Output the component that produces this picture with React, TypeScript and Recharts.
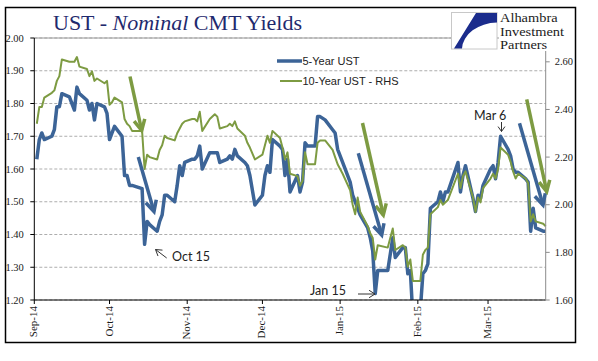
import { LineChart, Line, XAxis, YAxis, CartesianGrid, ReferenceLine } from "recharts";

// trading days, Sep-14 .. Mar-15
const dates = [
  // Sep 2014
  "2014-09-02", "2014-09-03", "2014-09-04", "2014-09-05", "2014-09-08", "2014-09-09", "2014-09-10",
  "2014-09-11", "2014-09-12", "2014-09-15", "2014-09-16", "2014-09-17", "2014-09-18", "2014-09-19",
  "2014-09-22", "2014-09-23", "2014-09-24", "2014-09-25", "2014-09-26", "2014-09-29", "2014-09-30",
  // Oct 2014
  "2014-10-01", "2014-10-02", "2014-10-03", "2014-10-06", "2014-10-07", "2014-10-08", "2014-10-09",
  "2014-10-10", "2014-10-14", "2014-10-15", "2014-10-16", "2014-10-17", "2014-10-20", "2014-10-21",
  "2014-10-22", "2014-10-23", "2014-10-24", "2014-10-27", "2014-10-28", "2014-10-29", "2014-10-30",
  "2014-10-31",
  // Nov 2014
  "2014-11-03", "2014-11-04", "2014-11-05", "2014-11-06", "2014-11-07", "2014-11-10", "2014-11-12",
  "2014-11-13", "2014-11-14", "2014-11-17", "2014-11-18", "2014-11-19", "2014-11-20", "2014-11-21",
  "2014-11-24", "2014-11-25", "2014-11-26", "2014-11-28",
  // Dec 2014
  "2014-12-01", "2014-12-02", "2014-12-03", "2014-12-04", "2014-12-05", "2014-12-08", "2014-12-09",
  "2014-12-10", "2014-12-11", "2014-12-12", "2014-12-15", "2014-12-16", "2014-12-17", "2014-12-18",
  "2014-12-19", "2014-12-22", "2014-12-23", "2014-12-24", "2014-12-26", "2014-12-29", "2014-12-30",
  "2014-12-31",
  // Jan 2015
  "2015-01-02", "2015-01-05", "2015-01-06", "2015-01-07", "2015-01-08", "2015-01-09", "2015-01-12",
  "2015-01-13", "2015-01-14", "2015-01-15", "2015-01-16", "2015-01-20", "2015-01-21", "2015-01-22",
  "2015-01-23", "2015-01-26", "2015-01-27", "2015-01-28", "2015-01-29", "2015-01-30",
  // Feb 2015
  "2015-02-02", "2015-02-03", "2015-02-04", "2015-02-05", "2015-02-06", "2015-02-09", "2015-02-10",
  "2015-02-11", "2015-02-12", "2015-02-13", "2015-02-17", "2015-02-18", "2015-02-19", "2015-02-20",
  "2015-02-23", "2015-02-24", "2015-02-25", "2015-02-26", "2015-02-27",
  // Mar 2015
  "2015-03-02", "2015-03-03", "2015-03-04", "2015-03-05", "2015-03-06", "2015-03-09", "2015-03-10",
  "2015-03-11", "2015-03-12", "2015-03-13", "2015-03-16", "2015-03-17", "2015-03-18", "2015-03-19",
  "2015-03-20", "2015-03-23", "2015-03-24",
];

const ust5Year = [
  1.63, 1.69, 1.71, 1.69, 1.70, 1.72, 1.79, 1.79, 1.83, 1.82, 1.80, 1.78, 1.85, 1.83, 1.81, 1.78, 1.80, 1.75, 1.80, 1.79, 1.77,
  1.69, 1.71, 1.73, 1.70, 1.58, 1.58, 1.55, 1.55, 1.54, 1.37, 1.44, 1.43, 1.41, 1.44, 1.46, 1.52, 1.52, 1.50, 1.55, 1.61, 1.58, 1.62,
  1.63, 1.63, 1.64, 1.67, 1.60, 1.65, 1.65, 1.65, 1.62, 1.63, 1.64, 1.63, 1.66, 1.64, 1.62, 1.61, 1.58, 1.49,
  1.52, 1.58, 1.61, 1.59, 1.69, 1.67, 1.66, 1.58, 1.63, 1.53, 1.58, 1.53, 1.56, 1.68, 1.67, 1.67, 1.76, 1.76, 1.75, 1.72, 1.71, 1.66,
  1.62, 1.56, 1.52, 1.50, 1.48, 1.46, 1.42, 1.39, 1.35, 1.22, 1.29, 1.29, 1.34, 1.39, 1.33, 1.36, 1.36, 1.28, 1.29, 1.15,
  1.17, 1.28, 1.29, 1.31, 1.48, 1.50, 1.53, 1.50, 1.53, 1.53, 1.62, 1.53, 1.58, 1.61, 1.51, 1.47, 1.52, 1.51, 1.55,
  1.60, 1.61, 1.57, 1.62, 1.70, 1.66, 1.64, 1.60, 1.59, 1.59, 1.57, 1.56, 1.41, 1.48, 1.42, 1.41, 1.41,
];

const ust10Year = [
  2.34, 2.41, 2.41, 2.45, 2.47, 2.48, 2.52, 2.54, 2.61, 2.60, 2.60, 2.60, 2.62, 2.58, 2.57, 2.54, 2.56, 2.52, 2.53, 2.51, 2.52,
  2.42, 2.43, 2.45, 2.43, 2.36, 2.34, 2.33, 2.31, 2.31, 2.15, 2.21, 2.20, 2.19, 2.23, 2.25, 2.29, 2.28, 2.27, 2.30, 2.32, 2.34, 2.35,
  2.36, 2.36, 2.35, 2.39, 2.31, 2.36, 2.38, 2.37, 2.32, 2.33, 2.34, 2.33, 2.35, 2.32, 2.29, 2.26, 2.24, 2.19,
  2.21, 2.25, 2.29, 2.26, 2.31, 2.28, 2.24, 2.19, 2.22, 2.13, 2.12, 2.08, 2.10, 2.22, 2.17, 2.17, 2.26, 2.27, 2.27, 2.23, 2.20, 2.17,
  2.13, 2.06, 2.00, 1.96, 2.03, 1.97, 1.91, 1.88, 1.86, 1.77, 1.83, 1.82, 1.86, 1.90, 1.81, 1.83, 1.82, 1.74, 1.77, 1.68,
  1.68, 1.79, 1.81, 1.82, 1.96, 1.99, 2.02, 2.00, 2.01, 2.02, 2.13, 2.07, 2.12, 2.14, 2.03, 1.97, 2.03, 2.01, 2.07,
  2.11, 2.13, 2.11, 2.15, 2.24, 2.21, 2.18, 2.14, 2.11, 2.13, 2.11, 2.09, 1.93, 1.96, 1.93, 1.92, 1.91,
];

const monthStarts = ["2014-09-01", "2014-10-01", "2014-11-01", "2014-12-01", "2015-01-01", "2015-02-01", "2015-03-01"];
const monthLabels = ["Sep-14", "Oct-14", "Nov-14", "Dec-14", "Jan-15", "Feb-15", "Mar-15"];
const leftTicks = [1.2, 1.3, 1.4, 1.5, 1.6, 1.7, 1.8, 1.9, 2.0];
const rightTicks = [1.6, 1.8, 2.0, 2.2, 2.4, 2.6];
const logoLines = ["Alhambra", "Investment", "Partners"];

const BLUE = "#3C6497";
const GREEN = "#7D9B42";
const SERIF = "'Liberation Serif', 'Times New Roman', serif";

const ORIGIN = Date.UTC(2014, 8, 1);
const dayOf = (s: string) => {
  const [y, m, d] = s.split("-").map(Number);
  return (Date.UTC(y, m - 1, d) - ORIGIN) / 86400000;
};

const data = dates.map((d, i) => ({ t: dayOf(d), ust5: ust5Year[i], ust10: ust10Year[i] }));
const xTicks = monthStarts.map(dayOf);
const xEnd = dayOf(dates[dates.length - 1]);

const XTick = ({ x, y, payload }: any) => {
  const label = monthLabels[xTicks.indexOf(payload.value)] ?? "";
  return (
    <text transform={`translate(${x + 3},${y}) rotate(-90)`} textAnchor="end" fontFamily={SERIF} fontSize={11} fill="#1a1a1a">
      {label}
    </text>
  );
};

const LeftTick = ({ x, y, payload }: any) => (
  <text x={x} y={y + 3.5} textAnchor="end" fontFamily={SERIF} fontSize={10.5} fill="#1a1a1a">
    {payload.value.toFixed(2)}
  </text>
);

const RightTick = ({ x, y, payload }: any) => (
  <text x={x} y={y + 3.5} textAnchor="start" fontFamily={SERIF} fontSize={10.5} fill="#1a1a1a">
    {payload.value.toFixed(2)}
  </text>
);

// arrow with open chevron head
function Arrow({ from, to, color, width, head = 12, angle = 27 }: any) {
  const dx = from[0] - to[0];
  const dy = from[1] - to[1];
  const len = Math.hypot(dx, dy);
  const ux = dx / len;
  const uy = dy / len;
  const a = (angle * Math.PI) / 180;
  const rot = (s: number) => [
    to[0] + head * (ux * Math.cos(s * a) - uy * Math.sin(s * a)),
    to[1] + head * (ux * Math.sin(s * a) + uy * Math.cos(s * a)),
  ];
  const l = rot(1);
  const r = rot(-1);
  return (
    <g stroke={color} strokeWidth={width} fill="none" strokeLinecap="butt" strokeLinejoin="miter">
      <line x1={from[0]} y1={from[1]} x2={to[0]} y2={to[1]} />
      <polyline points={`${l[0]},${l[1]} ${to[0]},${to[1]} ${r[0]},${r[1]}`} />
    </g>
  );
}

function Overlay() {
  return (
    <svg width={598} height={361} style={{ position: "absolute", left: 0, top: 0, pointerEvents: "none" }}>
      <rect x={5.5} y={7.5} width={570} height={335} fill="none" stroke="#000" strokeWidth={1.5} />

      <text x={53} y={30} fontFamily={SERIF} fontSize={22} fill="#1F2A6E">
        {"UST - "}
        <tspan fontStyle="italic">Nominal</tspan>
        {" CMT Yields"}
      </text>

      {/* logo */}
      <rect x={451.5} y={12.5} width={45.5} height={36.5} fill="#fff" stroke="#C8C8C8" />
      <path d="M476,13 L497,13 L497,22.5 A36,27 0 0 0 462,48.5 L454,48.5 Z" fill="#1B2C8C" />
      <rect x={499} y={10} width={60} height={41} fill="#fff" />
      {logoLines.map((s, i) => (
        <text
          key={s}
          transform={`translate(500,${22.3 + i * 13.3}) scale(1.2,1)`}
          fontFamily={SERIF}
          fontSize={12}
          fill="#1a1a1a"
        >
          {s}
        </text>
      ))}

      {/* legend */}
      <line x1={277} y1={61} x2={302} y2={61} stroke={BLUE} strokeWidth={3.5} />
      <text x={302.5} y={64.8} fontFamily="'Liberation Sans', Arial, sans-serif" fontSize={11} fill="#222">5-Year UST</text>
      <line x1={280} y1={81} x2={302} y2={81} stroke={GREEN} strokeWidth={2} />
      <text x={302.5} y={84.8} fontFamily="'Liberation Sans', Arial, sans-serif" fontSize={11} fill="#222">10-Year UST - RHS</text>

      {/* annotation arrows */}
      <Arrow from={[130, 76.5]} to={[141.7, 130.5]} color={GREEN} width={3.5} />
      <Arrow from={[138.3, 157]} to={[154, 211.5]} color={BLUE} width={3.5} />
      <Arrow from={[362.5, 123]} to={[383.3, 215]} color={GREEN} width={3.5} />
      <Arrow from={[358.3, 153.3]} to={[381.7, 235]} color={BLUE} width={3.5} />
      <Arrow from={[519.5, 123.3]} to={[543, 205]} color={BLUE} width={3.5} />
      <Arrow from={[526.7, 99.3]} to={[546.7, 191.5]} color={GREEN} width={3.5} />

      <g fontFamily="Lato, 'Liberation Sans', sans-serif" fontSize={12.5} fill="#222">
        <text x={172} y={261}>Oct 15</text>
        <text x={310} y={295}>Jan 15</text>
        <text x={474} y={119.5}>Mar 6</text>
      </g>
      <Arrow from={[166.7, 258]} to={[155.5, 249.5]} color="#333" width={1} head={7} angle={32} />
      <Arrow from={[358, 294]} to={[375, 294]} color="#333" width={1} head={7} angle={32} />
      <Arrow from={[501.5, 122]} to={[501.5, 131.5]} color="#333" width={1} head={6} angle={35} />
    </svg>
  );
}

export default function App() {
  return (
    <div style={{ position: "absolute", left: 0, top: 0, width: 598, height: 361, background: "#fff" }}>
      <LineChart width={598} height={361} data={data} margin={{ top: 38, right: 0, bottom: 0, left: 0 }}>
        <CartesianGrid yAxisId="l" vertical={false} stroke="#ADADAD" strokeDasharray="3 2" />
        <XAxis
          dataKey="t"
          type="number"
          domain={[0, xEnd]}
          ticks={xTicks}
          tick={<XTick />}
          tickSize={4}
          tickMargin={2}
          height={61}
          axisLine={{ stroke: "#000" }}
          tickLine={{ stroke: "#000" }}
          interval={0}
        />
        <YAxis
          yAxisId="l"
          domain={[1.2, 2.0]}
          ticks={leftTicks}
          allowDataOverflow
          width={34.3}
          tickSize={4}
          tickMargin={6.5}
          tick={<LeftTick />}
          axisLine={{ stroke: "#000" }}
          tickLine={{ stroke: "#000" }}
          interval={0}
        />
        <YAxis
          yAxisId="r"
          orientation="right"
          domain={[1.6, 2.7]}
          ticks={rightTicks}
          allowDataOverflow
          width={52.3}
          tickSize={4}
          tickMargin={5}
          tick={<RightTick />}
          axisLine={{ stroke: "#8C8C8C" }}
          tickLine={{ stroke: "#8C8C8C" }}
          interval={0}
        />
        <ReferenceLine yAxisId="l" y={2.0} stroke="#9A9A9A" />
        <Line
          yAxisId="l"
          dataKey="ust5"
          stroke={BLUE}
          strokeWidth={3.5}
          dot={false}
          activeDot={false}
          strokeLinejoin="round"
          isAnimationActive={false}
        />
        <Line
          yAxisId="r"
          dataKey="ust10"
          stroke={GREEN}
          strokeWidth={2}
          dot={false}
          activeDot={false}
          strokeLinejoin="round"
          isAnimationActive={false}
        />
      </LineChart>
      <Overlay />
    </div>
  );
}
